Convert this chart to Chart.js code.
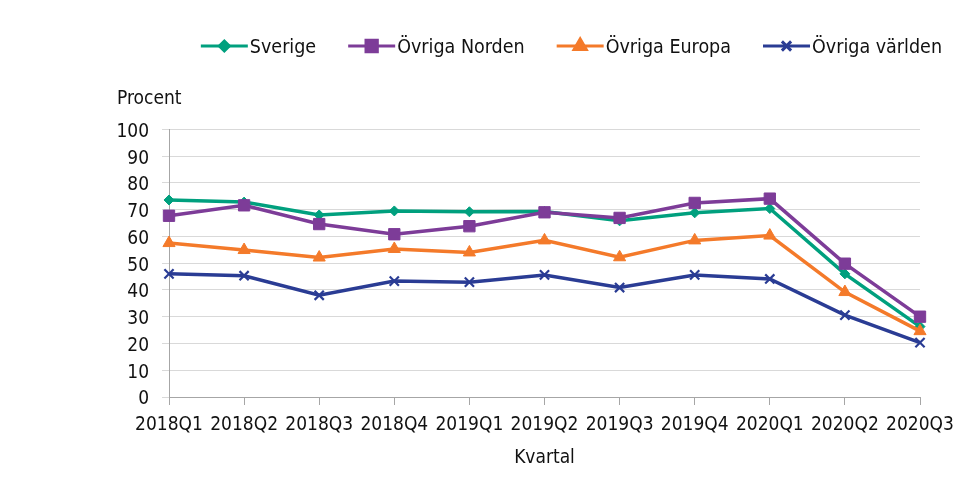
<!DOCTYPE html>
<html lang="sv">
<head>
<meta charset="utf-8">
<title>Procent per kvartal</title>
<script src="https://cdn.jsdelivr.net/npm/chart.js@4.4.0/dist/chart.umd.js"></script>
<style>
    html, body { margin: 0; padding: 0; background: #ffffff; }
    #wrap { width: 967px; height: 489px; }
</style>
</head>
<body>
<div id="wrap"><canvas id="chart" width="967" height="489"></canvas></div>
<script>
// Kvartal
const quarters = ['2018Q1', '2018Q2', '2018Q3', '2018Q4', '2019Q1', '2019Q2',
    '2019Q3', '2019Q4', '2020Q1', '2020Q2', '2020Q3'];

// Procent per serie
const sverige = [73.6, 72.8, 68.0, 69.5, 69.2, 69.3, 65.8, 68.8, 70.4, 46.0, 26.3];
const ovrigaNorden = [67.7, 71.6, 64.6, 60.8, 63.8, 69.0, 66.9, 72.5, 74.1, 49.8, 30.0];
const ovrigaEuropa = [57.5, 54.9, 52.1, 55.3, 54.0, 58.5, 52.2, 58.5, 60.3, 39.2, 24.6];
const ovrigaVarlden = [46.0, 45.3, 38.0, 43.3, 42.9, 45.6, 40.9, 45.6, 44.1, 30.6, 20.3];

const seriesNames = ['Sverige', 'Övriga Norden', 'Övriga Europa', 'Övriga världen'];
const yTicks = [0, 10, 20, 30, 40, 50, 60, 70, 80, 90, 100];

const FONT = "'DejaVu Sans Condensed', 'DejaVu Sans', sans-serif";
const TEXT = '#111111';

function series(label, data, color, pointStyle, radius, borderWidth, order) {
    return {
        label: label,
        data: data,
        borderColor: color,
        backgroundColor: color,
        pointBackgroundColor: color,
        pointBorderColor: color,
        borderWidth: 3.5,
        pointStyle: pointStyle,
        pointRadius: radius,
        pointBorderWidth: borderWidth,
        tension: 0,
        fill: false,
        order: order
    };
}

// Legend: line + marker, like the original
const lineLegend = {
    id: 'lineLegend',
    afterDraw(chart) {
        const ctx = chart.ctx;
        const sets = chart.data.datasets;
        const lineW = 47, gap = 2, spacing = 32, rightEnd = 942, y = 46;
        ctx.save();
        ctx.font = '19.5px ' + FONT;
        const widths = sets.map(ds => ctx.measureText(ds.label).width);
        const total = widths.reduce((s, w) => s + lineW + gap + w, 0) + spacing * (sets.length - 1);
        let x = rightEnd - total;
        sets.forEach((ds, i) => {
            ctx.strokeStyle = ds.borderColor;
            ctx.lineWidth = 3;
            ctx.beginPath();
            ctx.moveTo(x, y);
            ctx.lineTo(x + lineW, y);
            ctx.stroke();
            ctx.fillStyle = ds.backgroundColor;
            Chart.helpers.drawPoint(ctx, {
                pointStyle: ds.pointStyle,
                radius: ds.pointRadius,
                borderWidth: ds.pointBorderWidth,
                rotation: 0
            }, x + lineW / 2, y);
            ctx.fillStyle = TEXT;
            ctx.textAlign = 'left';
            ctx.textBaseline = 'middle';
            ctx.fillText(ds.label, x + lineW + gap, y + 2);
            x += lineW + gap + widths[i] + spacing;
        });
        ctx.restore();
    }
};

new Chart(document.getElementById('chart'), {
    type: 'line',
    data: {
        labels: quarters,
        datasets: [
            series(seriesNames[0], sverige, '#00a07e', 'rectRot', 5, 1, 4),
            series(seriesNames[1], ovrigaNorden, '#7d3c98', 'rect', 8, 1, 3),
            series(seriesNames[2], ovrigaEuropa, '#f47a2a', 'triangle', 7, 1, 2),
            series(seriesNames[3], ovrigaVarlden, '#2a3c94', 'crossRot', 6.5, 2.2, 1)
        ]
    },
    options: {
        responsive: false,
        animation: false,
        layout: { padding: { left: 117, top: 87.6, right: 0, bottom: 0 } },
        plugins: {
            legend: { display: false },
            tooltip: { enabled: false },
            title: {
                display: true,
                text: 'Procent',
                align: 'start',
                color: TEXT,
                font: { family: FONT, size: 19, weight: 'normal' },
                padding: { top: 0, bottom: 18.9 }
            }
        },
        scales: {
            x: {
                offset: false,
                afterFit(scale) {
                    scale.height = 92;
                    scale.paddingRight = 47;
                },
                grid: {
                    drawOnChartArea: false,
                    tickLength: 8,
                    tickColor: '#a6a6a6'
                },
                border: { color: '#a6a6a6', width: 1 },
                ticks: {
                    color: TEXT,
                    font: { family: FONT, size: 19 },
                    maxRotation: 0,
                    autoSkip: false,
                    padding: 9
                },
                title: {
                    display: true,
                    text: 'Kvartal',
                    color: TEXT,
                    font: { family: FONT, size: 19 },
                    padding: { top: 0, bottom: 20 }
                }
            },
            y: {
                min: 0,
                max: 100,
                afterFit(scale) {
                    scale.width = 52;
                },
                afterBuildTicks(scale) {
                    scale.ticks = yTicks.map(v => ({ value: v }));
                },
                grid: {
                    color: '#d9d9d9',
                    lineWidth: 1,
                    tickLength: 7
                },
                border: { color: '#a6a6a6', width: 1 },
                ticks: {
                    color: TEXT,
                    font: { family: FONT, size: 19 },
                    padding: 13,
                    labelOffset: 2.5
                }
            }
        }
    },
    plugins: [lineLegend]
});
</script>
</body>
</html>
